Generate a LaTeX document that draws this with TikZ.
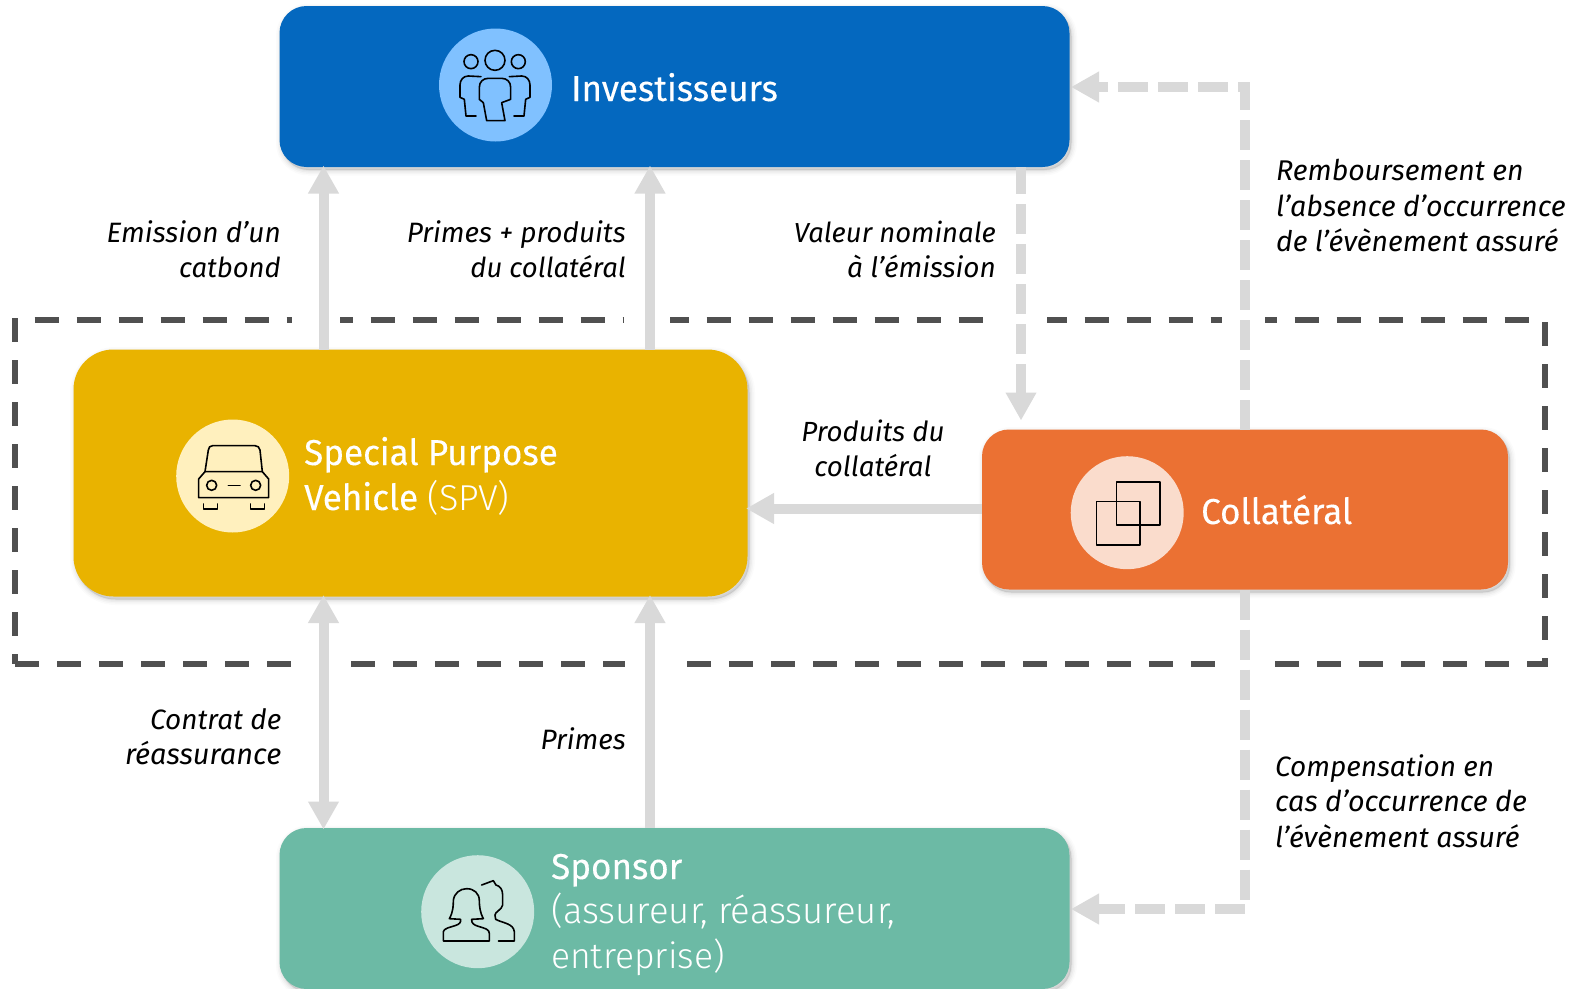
\documentclass[tikz,border=0pt]{standalone}
\usepackage{fontspec}
\setmainfont{Fira Sans}
\newfontfamily\lightfont{Fira Sans Light}
\newfontfamily\titlefont[FakeStretch=0.972,FakeBold=0.25]{Fira Sans}
\usetikzlibrary{arrows.meta,shadows,calc}
\definecolor{blueb}{HTML}{0468BF}
\definecolor{goldb}{HTML}{E9B300}
\definecolor{orangeb}{HTML}{EB7133}
\definecolor{greenb}{HTML}{6CBAA5}
\definecolor{bluec}{HTML}{80C1FF}
\definecolor{goldc}{HTML}{FFF0BE}
\definecolor{orangec}{HTML}{FADCCC}
\definecolor{greenc}{HTML}{C9E6DE}
\definecolor{flow}{HTML}{D9D9D9}
\definecolor{frame}{HTML}{505050}
\tikzset{
  softshadow/.style={
    general shadow={shadow xshift=2pt,shadow yshift=-3pt,fill=black,draw=black,opacity=.015,line width=11pt},
    general shadow={shadow xshift=2pt,shadow yshift=-3pt,fill=black,draw=black,opacity=.025,line width=8pt},
    general shadow={shadow xshift=2pt,shadow yshift=-3pt,fill=black,draw=black,opacity=.03,line width=5pt},
    general shadow={shadow xshift=2pt,shadow yshift=-3pt,fill=black,draw=black,opacity=.04,line width=2pt}},
  box/.style={softshadow,rectangle,inner sep=0pt,outer sep=0pt},
  disc/.style={circle,inner sep=0pt,outer sep=0pt,minimum size=113pt},
  flowline/.style={draw=flow,line width=10pt,shorten >=-1.5pt,-{Triangle[length=28pt,width=29pt]}},
  flowdash/.style={flowline,dash pattern=on 30pt off 10pt},
  framedash/.style={draw=frame,line width=6pt,dash pattern=on 24pt off 18pt},
  title/.style={anchor=base west,inner sep=0pt,text=white,font=\fontsize{36}{44}\selectfont\titlefont},
  lab/.style={inner sep=0pt,font=\fontsize{28}{35}\selectfont\itshape},
  labsize/.style={lab,font=\fontsize{#1}{35}\selectfont\itshape},
  icon/.style={draw=black,line width=1.6pt,line join=round,line cap=round},
}
\begin{document}
\begin{tikzpicture}[x=1pt,y=-1pt]
\useasboundingbox (0,0) rectangle (1570,988);
\fill[white] (0,0) rectangle (1570,988);
% dashed frame
\draw[framedash] (34.7,320) -- (1529,320);
\draw[framedash] (15,318) -- (15,663.5);
\draw[framedash] (1545,322) -- (1545,663.5);
\draw[framedash] (15,663.5) -- (1548,663.5);
\foreach \a/\b in {292/340,624/670,983/1047,1222/1265}
  \fill[white] (\a,315) rectangle (\b,325);
\foreach \a/\b in {292/350,625/686,1216/1274}
  \fill[white] (\a,658) rectangle (\b,669);
% boxes
\node[box,fill=blueb,rounded corners=27pt,minimum width=790pt,minimum height=161pt] (inv) at (674.5,86.5) {};
\node[box,fill=goldb,rounded corners=40pt,minimum width=674pt,minimum height=247pt] (spv) at (410.5,473) {};
\node[box,fill=orangeb,rounded corners=27pt,minimum width=526pt,minimum height=160pt] (col) at (1245,509.5) {};
\node[box,fill=greenb,rounded corners=27pt,minimum width=790pt,minimum height=161pt] (spo) at (674.5,908.5) {};
% connector columns
\coordinate (xa) at (323.5,0);
\coordinate (xb) at (650,0);
\coordinate (xc) at (1021,0);
\coordinate (xd) at (1245,0);
\coordinate (ytop) at (0,87);
\coordinate (ybot) at (0,909);
\coordinate (ycol) at (0,508.5);
\coordinate (endcol) at (1021,419);
\draw[flowline] (xa |- spv.north) -- (xa |- inv.south);
\draw[flowline] (xb |- spv.north) -- (xb |- inv.south);
\draw[flowline,shorten <=-1.5pt,{Triangle[length=28pt,width=29pt]}-{Triangle[length=28pt,width=29pt]}] (xa |- spv.south) -- (xa |- spo.north);
\draw[flowline] (xb |- spo.north) -- (xb |- spv.south);
\draw[flowline] (col.west |- ycol) -- (spv.east |- ycol);
\draw[flowdash,dash phase=3pt] (xc |- inv.south) -- (endcol);
\draw[flowdash] (xd |- col.north) -- (xd |- ytop) -- ($(inv.east |- ytop)+(3,0)$);
\draw[flowdash] (xd |- col.south) -- (xd |- ybot) -- ($(inv.east |- ybot)+(3,0)$);
% discs
\node[disc,fill=bluec] (dinv) at (495.5,85) {};
\node[disc,fill=goldc] (dspv) at (232.7,476) {};
\node[disc,fill=orangec] (dcol) at (1127.2,512.7) {};
\node[disc,fill=greenc] (dspo) at (477.7,911.7) {};
% investors icon
\begin{scope}[shift={(420,10)},x=.3333pt,y=-.3333pt]
  \draw[icon] (225,151) circle (30);
  \draw[icon] (153,155) circle (21);
  \draw[icon] (295,155) circle (21);
  \draw[icon] (178,268) -- (178,232) .. controls (178,215) and (190,205) .. (205,205) -- (245,205) .. controls (260,205) and (272,215) .. (272,232) -- (272,268) -- (245,278) -- (255,332) -- (200,332) -- (190,278) -- cycle;
  \draw[icon] (183,200) -- (145,198) .. controls (130,198) and (120,210) .. (120,225) -- (120,262) -- (133,268) -- (138,318) -- (168,318);
  \draw[icon] (268,200) -- (305,198) .. controls (320,198) and (330,210) .. (330,225) -- (330,262) -- (317,268) -- (312,318) -- (282,318);
\end{scope}
% car icon
\begin{scope}[shift={(160,400)},x=.3333pt,y=-.3333pt]
  \draw[icon] (135,215) -- (145,150) .. controls (146,142) and (150,137) .. (158,137) -- (285,137) .. controls (293,137) and (299,142) .. (300,150) -- (307,215);
  \draw[icon] (135,215) -- (307,215) -- (326,237) -- (326,293) -- (116,293) -- (116,237) -- cycle;
  \draw[icon] (155,256) circle (15);
  \draw[icon] (287,256) circle (15);
  \draw[icon] (205,256) -- (240,256);
  \draw[icon] (130,312) -- (130,327) -- (172,327) -- (172,312);
  \draw[icon] (272,312) -- (272,327) -- (314,327) -- (314,312);
\end{scope}
% squares icon
\begin{scope}[shift={(1050,440)},x=.3333pt,y=-.3333pt]
  \draw[icon] (200,126) rectangle (330,255);
  \draw[icon] (140,185) rectangle (270,315);
\end{scope}
% people icon
\begin{scope}[shift={(400,830)},x=.3333pt,y=-.3333pt]
  \draw[icon] (130,333) -- (130,305) .. controls (132,295) and (150,292) .. (165,287) .. controls (178,283) and (183,278) .. (182,268) -- (148,266) .. controls (160,245) and (160,225) .. (160,212) .. controls (162,190) and (180,176) .. (200,176) .. controls (222,176) and (238,190) .. (238,212) .. controls (238,228) and (240,248) .. (250,266) -- (215,268) .. controls (214,280) and (222,285) .. (235,289) .. controls (255,295) and (268,298) .. (268,310) -- (268,333) -- cycle;
  \draw[icon] (245,165) -- (280,152) -- (288,165) .. controls (300,168) and (308,178) .. (308,195) -- (308,225) .. controls (305,240) and (285,245) .. (285,255) -- (287,268) .. controls (310,280) and (340,280) .. (343,305) -- (343,333) -- (295,333);
\end{scope}
% titles
\node[title] (tinv) at (571,101) {Investisseurs};
\node[title] (tspv1) at (304,465) {Special Purpose};
\node[title] (tspv2) at (304,510) {Vehicle {\lightfont (SPV)}};
\node[title] (tcol) at (1201,524) {Collatéral};
\node[title] (tspo1) at (551,879) {Sponsor};
\node[title] (tspo2) at (551,923) {\lightfont \fontsize{36.5}{44}\selectfont (assureur, réassureur,};
\node[title] (tspo3) at (551,968) {\lightfont \fontsize{35.5}{44}\selectfont entreprise)};
% labels
\node[lab,anchor=base east] (l1a) at (281,242) {Emission d’un};
\node[labsize=27.5,anchor=base east] (l1b) at (281,277) {catbond};
\node[lab,anchor=base east] (l2a) at (626,242) {Primes + produits};
\node[labsize=27.5,anchor=base east] (l2b) at (626,277) {du collatéral};
\node[labsize=27.5,anchor=base east] (l3a) at (996,242) {Valeur nominale};
\node[lab,anchor=base east] (l3b) at (996,277) {à l’émission};
\node[labsize=27.7,anchor=base] (l4a) at (873,441) {Produits du};
\node[labsize=27.7,anchor=base] (l4b) at (873,476) {collatéral};
\node[labsize=28.5,anchor=base west] (l5a) at (1276,180) {Remboursement en};
\node[labsize=28.7,anchor=base west] (l5b) at (1276,216) {l’absence d’occurrence};
\node[labsize=28.4,anchor=base west] (l5c) at (1276,251) {de l’évènement assuré};
\node[lab,anchor=base east] (l6a) at (281.5,729) {Contrat de};
\node[labsize=29,anchor=base east] (l6b) at (281.5,764) {réassurance};
\node[lab,anchor=base east] (l7) at (626,749) {Primes};
\node[labsize=28,anchor=base west] (l8a) at (1275,776) {Compensation en};
\node[labsize=28.7,anchor=base west] (l8b) at (1275,811) {cas d’occurrence de};
\node[labsize=28.5,anchor=base west] (l8c) at (1275,847) {l’évènement assuré};
\end{tikzpicture}
\end{document}
